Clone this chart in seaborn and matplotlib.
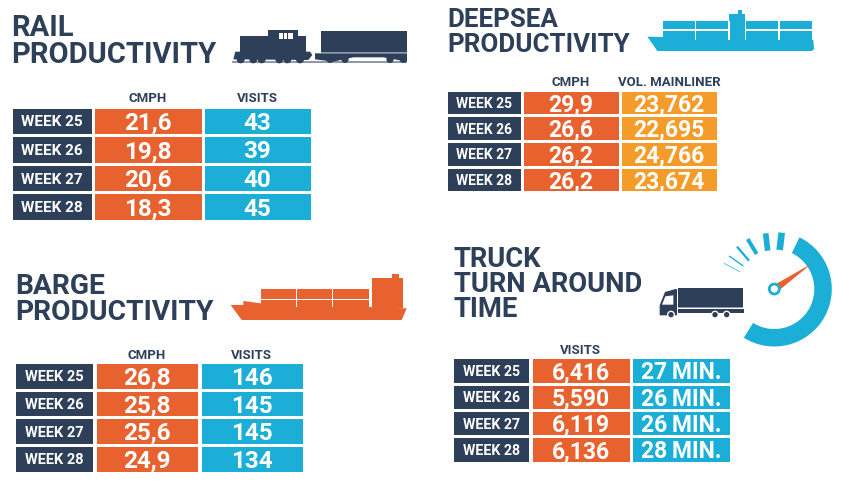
import numpy as np
import matplotlib
matplotlib.use("Agg")
import matplotlib.pyplot as plt
from matplotlib.colors import ListedColormap
from matplotlib.patches import Circle, Polygon, Rectangle, Wedge
import seaborn as sns

weeks = ["WEEK 25", "WEEK 26", "WEEK 27", "WEEK 28"]

rail_cmph = ["21,6", "19,8", "20,6", "18,3"]
rail_visits = ["43", "39", "40", "45"]
deepsea_cmph = ["29,9", "26,6", "26,2", "26,2"]
deepsea_volume = ["23,762", "22,695", "24,766", "23,674"]
barge_cmph = ["26,8", "25,8", "25,6", "24,9"]
barge_visits = ["146", "145", "145", "134"]
truck_visits = ["6,416", "5,590", "6,119", "6,136"]
truck_minutes = ["27\u2009MIN.", "26\u2009MIN.", "26\u2009MIN.", "28\u2009MIN."]

NAVY = "#2E4059"
ORANGE = "#E8622F"
BLUE = "#1BAED6"
AMBER = "#F59B2A"
W, H = 850, 490

sns.set_theme(style="white")
plt.rcParams["font.family"] = ["Roboto", "DejaVu Sans"]
plt.rcParams["font.weight"] = "bold"

fig = plt.figure(figsize=(8.5, 4.9), dpi=100, facecolor="white")

# overlay in pixel coordinates for titles, column heads and icons
bg = fig.add_axes([0, 0, 1, 1])
bg.set_xlim(0, W)
bg.set_ylim(H, 0)
bg.axis("off")


def column(labels, x0, x1, y0, y1, color, size):
    # one heatmap per column because the column widths differ
    ax = fig.add_axes([(x0 - 1.5) / W, 1 - (y1 + 1.5) / H, (x1 - x0 + 3) / W, (y1 - y0 + 3) / H])
    sns.heatmap(np.zeros((len(labels), 1)), ax=ax, cmap=ListedColormap([color]), vmin=0, vmax=1,
                cbar=False, annot=np.array(labels).reshape(-1, 1), fmt="",
                annot_kws={"color": "white", "fontsize": size, "fontweight": "bold"},
                linewidths=2.16, linecolor="white", xticklabels=False, yticklabels=False)
    for t in ax.texts:
        t.set_va("center_baseline")


def title(lines, x, baselines, size):
    for line, y in zip(lines, baselines):
        bg.text(x, y, line, color=NAVY, fontsize=size, fontweight="bold", va="baseline", ha="left")


def head(text, x, y):
    bg.text(x, y, text, color=NAVY, fontsize=9.5, fontweight="bold", ha="center", va="center")


def poly(points, color, off=(0, 0), zorder=2):
    pts = [(off[0] + px / 3, off[1] + py / 3) for px, py in points]
    bg.add_patch(Polygon(pts, closed=True, fc=color, ec="none", zorder=zorder))


def rect(x0, y0, x1, y1, color, off=(0, 0), zorder=2):
    bg.add_patch(Rectangle((off[0] + x0 / 3, off[1] + y0 / 3), (x1 - x0) / 3, (y1 - y0) / 3,
                           fc=color, ec="none", zorder=zorder))


def wheel(x, y, r, color, off=(0, 0), zorder=3):
    bg.add_patch(Circle((off[0] + x / 3, off[1] + y / 3), r / 3, fc=color, ec="none", zorder=zorder))


def draw_train():
    rect(697, 184, 1221, 190, "#8E9AAC")
    rect(720, 108, 918, 160, NAVY)
    rect(803, 90, 893, 108, NAVY)
    rect(838, 100, 880, 118, "white", zorder=3)
    for x in (850, 862):
        rect(x - 1, 100, x + 1, 118, NAVY, zorder=4)
    poly([(700, 178), (706, 155), (930, 155), (937, 165), (925, 180)], NAVY)
    for x in (722, 760, 785, 838, 862, 900):
        wheel(x, 178, 12, NAVY)
    rect(962, 92, 1221, 155, NAVY)
    rect(962, 155, 1221, 158, "#8E9AAC")
    poly([(945, 178), (945, 160), (1221, 160), (1221, 185), (1150, 172), (1060, 172), (1000, 185)], NAVY)
    for x in (990, 1035, 1170, 1210):
        wheel(x, 178, 11, NAVY)


def draw_ship(off, color, hull, box, tower, funnel, rail_y, posts, tower_lines=()):
    poly(hull, color, off)
    rect(*box, color, off)
    rect(*tower, color, off)
    rect(*funnel, color, off)
    rect(box[0], rail_y - 2, box[2], rail_y + 2, "white", off, zorder=3)
    for x in posts:
        rect(x - 2, box[1], x + 2, box[3], "white", off, zorder=3)
    # tower sits over the line
    rect(tower[0], tower[1], tower[2], tower[3], color, off, zorder=4)
    for x in tower_lines:
        rect(x - 2, box[1], x + 2, box[3], "white", off, zorder=5)


def draw_truck(off):
    rect(760, 175, 953, 232, NAVY, off)
    rect(760, 232, 953, 235, "#8E9AAC", off)
    poly([(760, 236), (958, 236), (958, 250), (760, 250)], NAVY, off)
    poly([(704, 256), (704, 226), (720, 186), (752, 177), (756, 177), (756, 256)], NAVY, off)
    poly([(711, 224), (721, 199), (745, 196), (745, 224)], "white", off, zorder=3)
    for x in (738, 870, 905):
        wheel(x, 254, 12, "white", off)
        wheel(x, 254, 8, NAVY, off, zorder=4)


def draw_gauge():
    cx, cy = 774.3, 289
    bg.add_patch(Wedge((cx, cy), 57.5, -64, 122, width=17.5, fc=BLUE, ec="none", zorder=2))
    off = (425, 230)
    ticks = [((1070, 8), (1064, 60), 20), ((1022, 10), (1028, 62), 17), ((968, 27), (995, 72), 12),
             ((936, 50), (972, 92), 7), ((912, 78), (955, 108), 4), ((897, 100), (945, 125), 2)]
    for (xa, ya), (xb, yb), wd in ticks:
        bg.plot([off[0] + xa / 3, off[0] + xb / 3], [off[1] + ya / 3, off[1] + yb / 3], color=BLUE,
                lw=wd / 3 * 0.72, solid_capstyle="butt", zorder=2)
    poly([(1160, 101), (1056, 160), (1066, 178)], ORANGE, off, zorder=3)
    bg.add_patch(Circle((cx, cy), 5, fc="white", ec=BLUE, lw=2, zorder=4))


# rail
title(["RAIL", "PRODUCTIVITY"], 11, [36, 63], 21)
head("CMPH", 147.5, 98.5)
head("VISITS", 257, 98.5)
column(weeks, 12, 91, 108, 219.5, NAVY, 11)
column(rail_cmph, 94.7, 201, 108, 219.5, ORANGE, 17.5)
column(rail_visits, 204, 310.5, 108, 219.5, BLUE, 17.5)
draw_train()

# deepsea
title(["DEEPSEA", "PRODUCTIVITY"], 447, [27, 52], 18.7)
head("CMPH", 571, 83)
head("VOL. MAINLINER", 669, 83)
column(weeks, 447.7, 520, 91, 190.7, NAVY, 10)
column(deepsea_cmph, 523.7, 618, 91, 190.7, ORANGE, 16.5)
column(deepsea_volume, 621.7, 716, 91, 190.7, AMBER, 16.5)
draw_ship((425, 0), BLUE,
          [(667, 110), (1165, 120), (1167, 148), (1160, 153), (697, 153)],
          (713, 62, 1160, 120), (912, 42, 960, 120), (938, 30, 952, 42), 90,
          (812, 1062), (912, 962))

# barge
title(["BARGE", "PRODUCTIVITY"], 15, [294, 320], 20.3)
head("CMPH", 146.5, 355)
head("VISITS", 251.5, 355)
column(weeks, 15.7, 92.3, 363.7, 471, NAVY, 10.5)
column(barge_cmph, 96, 197, 363.7, 471, ORANGE, 17.5)
column(barge_visits, 201, 302, 363.7, 471, BLUE, 17.5)
draw_ship((0, 260), ORANGE,
          [(692, 135), (730, 135), (730, 123), (782, 130), (1220, 145), (1205, 180), (725, 180)],
          (783, 88, 1108, 140), (1115, 55, 1210, 145), (1177, 43, 1197, 55), 118,
          (890, 997))

# truck
title(["TRUCK", "TURN AROUND", "TIME"], 454, [267, 292, 317], 19.7)
head("VISITS", 580.5, 350)
column(weeks, 453.7, 528.7, 358.7, 461, NAVY, 10.2)
column(truck_visits, 532, 629, 358.7, 461, ORANGE, 16.5)
column(truck_minutes, 632.3, 729.7, 358.7, 461, BLUE, 16.5)
draw_truck((425, 230))
draw_gauge()

fig.savefig("out.png", dpi=100, facecolor="white")
